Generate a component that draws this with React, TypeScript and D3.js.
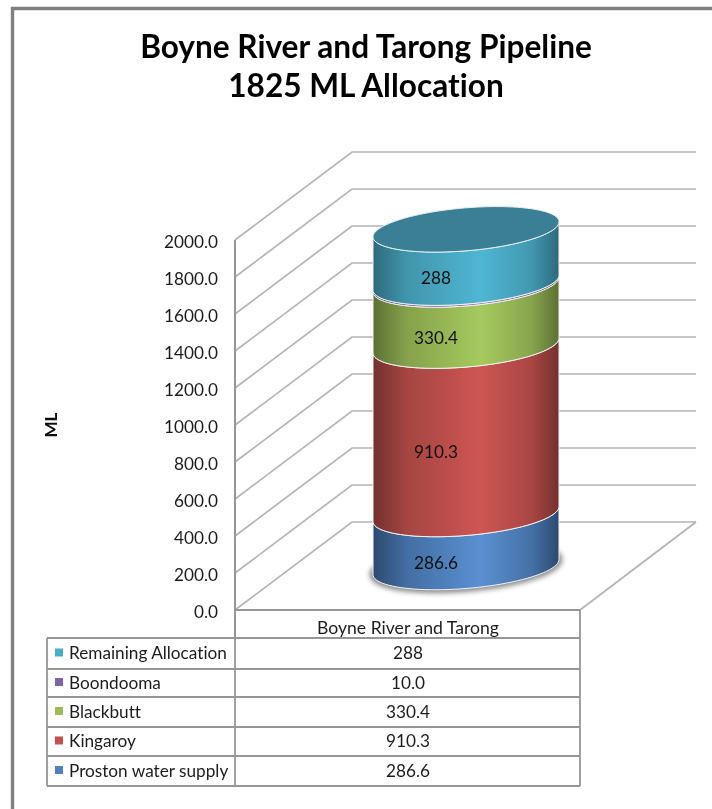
import * as d3 from 'd3';
import * as React from 'react';

const titleLines = ['Boyne River and Tarong Pipeline', '1825 ML Allocation'];
const category = 'Boyne River and Tarong';
const yTicks = [0, 200, 400, 600, 800, 1000, 1200, 1400, 1600, 1800, 2000];

// bottom of the stack first
const seriesNames = ['Proston water supply', 'Kingaroy', 'Blackbutt', 'Boondooma', 'Remaining Allocation'];
const seriesValues = [286.6, 910.3, 330.4, 10.0, 288];
const tableLabels = ['286.6', '910.3', '330.4', '10.0', '288'];
const barLabels = ['286.6', '910.3', '330.4', '', '288'];
const seriesColors = ['#4f81bd', '#c0504d', '#9bbb59', '#8064a2', '#4bacc6'];
const seriesEdge = ['#2c4a70', '#74302e', '#5c7034', '#4c3c61', '#2d6a7c'];
const seriesMid = ['#5a90d2', '#ce5653', '#a6ca5e', '#8e70b4', '#4fb6d3'];

const font = 'Lato, "Open Sans", sans-serif';
const gridColor = '#b4b4b4';
const tableColor = '#969696';
const labelSize = 17.2;

const App = () => {
  const yFront = d3.scaleLinear().domain([0, 2000]).range([610, 240]);
  const yBack = d3.scaleLinear().domain([0, 2000]).range([522, 152]);
  const yBar = d3.scaleLinear().domain([0, 2000]).range([567, 197]);

  const wallX = 235;
  const backX = 352;
  const floorRight = 580;
  const backRight = 696;

  const cx = 466;
  const rx = 93;
  const ry = 21.5;
  const tilt = -7.5;

  const ringPoint = (cy: number, t: number): [number, number] => [
    cx + rx * Math.cos(t),
    cy + ry * Math.sin(t) + tilt * Math.cos(t),
  ];
  const line = d3.line();
  const angles = d3.range(0, Math.PI + 0.001, Math.PI / 48);
  const fullAngles = d3.range(0, 2 * Math.PI, Math.PI / 48);

  const stacked = d3.stack().keys(seriesNames.map((_, i) => String(i)))([
    Object.fromEntries(seriesValues.map((v, i) => [String(i), v])) as any,
  ]);

  const sidePath = (v0: number, v1: number) => {
    const front = angles.map((t) => ringPoint(yBar(v0), t));
    const back = angles.map((t) => ringPoint(yBar(v1), t)).reverse();
    return line([...front, ...back]) + 'Z';
  };
  const ringPath = (v: number) => line(fullAngles.map((t) => ringPoint(yBar(v), t))) + 'Z';
  const total = d3.sum(seriesValues);

  const colX = [47, 235, 580];
  const rowY = [638, 669, 697, 727, 756, 786];
  const rows = [...seriesNames.keys()].reverse();

  return (
    <svg
      width={712}
      height={809}
      style={{ position: 'absolute', left: 0, top: 0, background: '#fff', fontVariantLigatures: 'none' }}
      fontFamily={font}
    >
      <defs>
        {seriesNames.map((_, i) => (
          <linearGradient key={i} id={`side-${i}`} x1="0" x2="1" y1="0" y2="0">
            <stop offset="0%" stopColor={seriesEdge[i]} />
            <stop offset="18%" stopColor={d3.interpolateRgb(seriesEdge[i], seriesColors[i])(0.65)} />
            <stop offset="58%" stopColor={seriesMid[i]} />
            <stop offset="85%" stopColor={d3.interpolateRgb(seriesEdge[i], seriesColors[i])(0.7)} />
            <stop offset="100%" stopColor={seriesEdge[i]} />
          </linearGradient>
        ))}
        <filter id="shadow" x="-20%" y="-50%" width="140%" height="200%">
          <feGaussianBlur stdDeviation="2.5" />
        </filter>
        <filter id="soft" x="0" y="0" width="100%" height="100%">
          <feGaussianBlur stdDeviation="0.55" />
        </filter>
      </defs>

      <g filter="url(#soft)">
        <rect x={0} y={0} width={712} height={809} fill="#fff" />
        <path d="M12.5,809V8.5H712" fill="none" stroke="#808080" strokeWidth={3.4} />

        {titleLines.map((t, i) => (
          <text key={t} x={366} y={58 + i * 39} textAnchor="middle" fontSize={31.6} fontWeight={700} fill="#050505">
            {t}
          </text>
        ))}

        {/* walls */}
        <g fill="none" stroke={gridColor} strokeWidth={1.7}>
          {yTicks.map((t) => (
            <path key={t} d={line([[wallX, yFront(t)], [backX, yBack(t)], [backRight, yBack(t)]]) ?? ''} />
          ))}
          <path d={line([[backRight, yBack(0)], [floorRight, yFront(0)]]) ?? ''} />
          <path d={line([[wallX, yFront(0)], [floorRight, yFront(0)]]) ?? ''} stroke={tableColor} strokeWidth={1.8} />
        </g>
        <line x1={wallX} x2={wallX} y1={yFront(2000)} y2={rowY[0]} stroke={tableColor} strokeWidth={2} />

        {yTicks.map((t) => (
          <text key={t} x={218} y={yFront(t) + 8} textAnchor="end" fontSize={labelSize} fill="#1c1c1c">
            {d3.format('.1f')(t)}
          </text>
        ))}
        <text transform="translate(57,425) rotate(-90)" textAnchor="middle" fontSize={17} fontWeight={700} fill="#111">
          ML
        </text>

        {/* cylinder */}
        <path d={ringPath(0)} fill="#333" stroke="#333" strokeWidth={7} opacity={0.55} filter="url(#shadow)" />
        {stacked.map((s, i) => (
          <path key={i} d={sidePath(s[0][0], s[0][1])} fill={`url(#side-${i})`} stroke="#f2f2f2" strokeWidth={1} />
        ))}
        <path d={ringPath(total)} fill="#3a7f97" stroke="#e8eef0" strokeWidth={1} />

        {stacked.map((s, i) =>
          barLabels[i] ? (
            <text key={i} x={cx - 30} y={yBar((s[0][0] + s[0][1]) / 2) + 28.5} textAnchor="middle" fontSize={labelSize} fill="#111">
              {barLabels[i]}
            </text>
          ) : null
        )}

        {/* data table */}
        <g stroke={tableColor} strokeWidth={1.8} fill="none">
          {rowY.map((y) => (
            <line key={y} x1={colX[0]} x2={colX[2]} y1={y} y2={y} />
          ))}
          <line x1={colX[0]} x2={colX[0]} y1={rowY[0]} y2={rowY[5]} />
          <line x1={colX[1]} x2={colX[1]} y1={rowY[0]} y2={rowY[5]} />
          <line x1={colX[2]} x2={colX[2]} y1={yFront(0)} y2={rowY[5]} />
        </g>
        <text x={408} y={634} textAnchor="middle" fontSize={17.6} fill="#1c1c1c">
          {category}
        </text>
        {rows.map((s, r) => {
          const mid = (rowY[r] + rowY[r + 1]) / 2;
          return (
            <g key={s}>
              <rect x={55} y={mid - 5} width={8} height={8} fill={seriesColors[s]} />
              <text x={69} y={mid + 5.5} fontSize={labelSize} fill="#1c1c1c">
                {seriesNames[s]}
              </text>
              <text x={408} y={mid + 5.5} textAnchor="middle" fontSize={labelSize} fill="#1c1c1c">
                {tableLabels[s]}
              </text>
            </g>
          );
        })}
      </g>
    </svg>
  );
};

export default App;
